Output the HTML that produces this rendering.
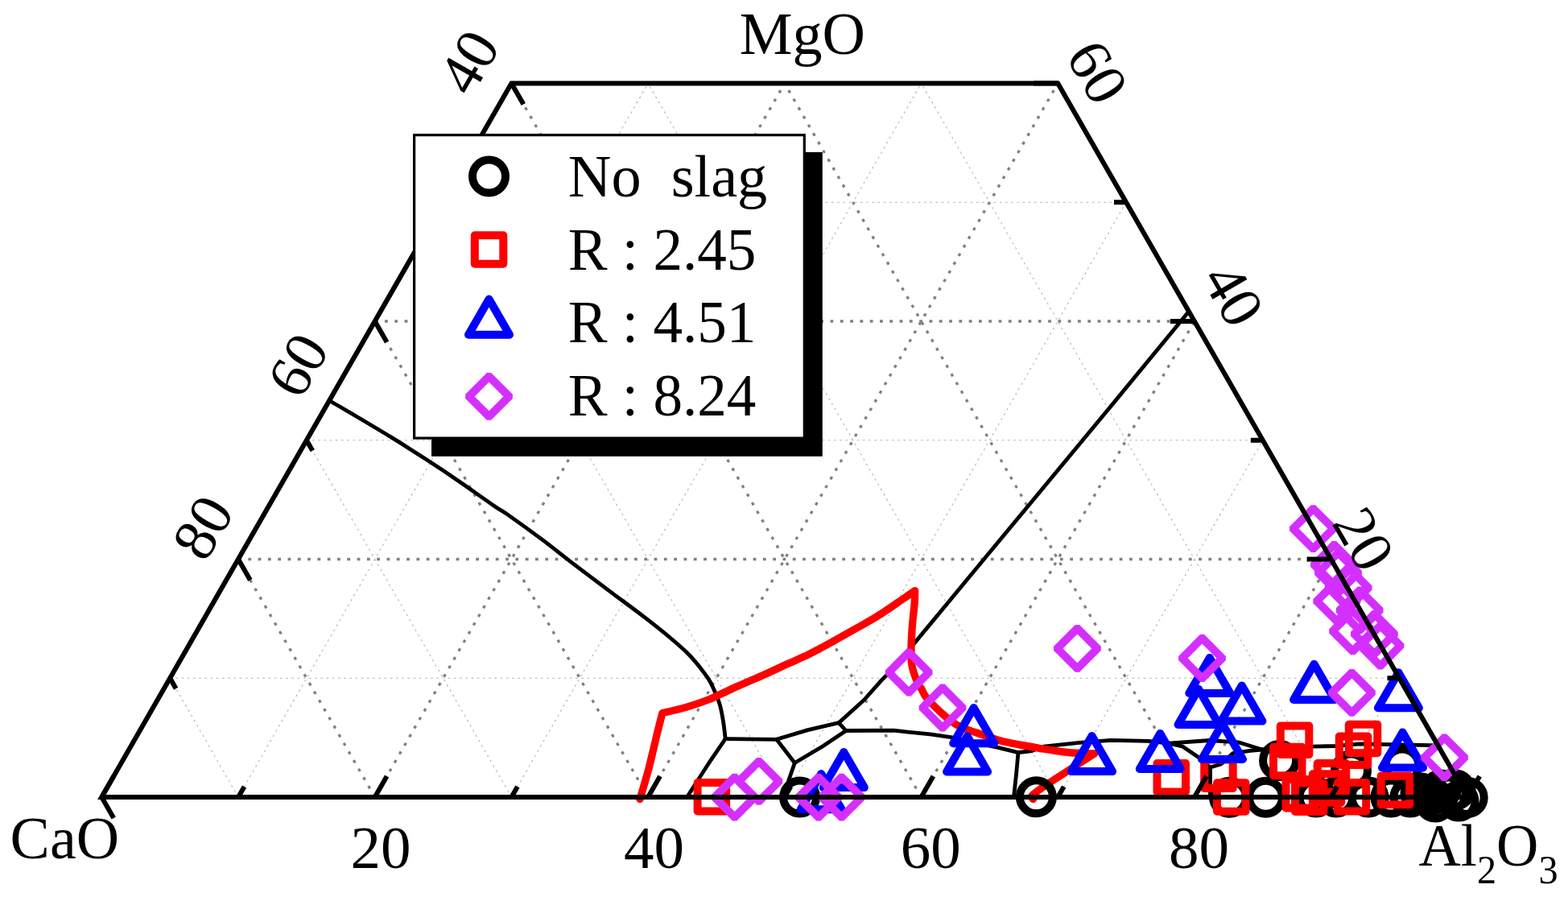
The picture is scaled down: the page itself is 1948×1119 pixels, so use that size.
<!DOCTYPE html>
<html><head><meta charset="utf-8"><title>Ternary diagram</title>
<style>html,body{margin:0;padding:0;background:#fff;overflow:hidden}svg{display:block}</style>
</head><body>
<svg width="1948" height="1119" viewBox="0 0 1948 1119"><rect width="100%" height="100%" fill="#fff"/><g id="grid"><line x1="211.2" y1="842.2" x2="1738.5" y2="842.2" stroke="#b0b0b0" stroke-width="1.05" stroke-dasharray="2.6 4.6" fill="none"/><line x1="296" y1="990" x2="805.1" y2="103.5" stroke="#b0b0b0" stroke-width="1.05" stroke-dasharray="2.6 4.6" fill="none"/><line x1="1653.6" y1="990" x2="1144.5" y2="103.5" stroke="#b0b0b0" stroke-width="1.05" stroke-dasharray="2.6 4.6" fill="none"/><line x1="296" y1="694.5" x2="1653.6" y2="694.5" stroke="#808080" stroke-width="3.3" stroke-dasharray="3.8 8.5" fill="none"/><line x1="465.7" y1="990" x2="974.8" y2="103.5" stroke="#808080" stroke-width="3.3" stroke-dasharray="3.8 8.5" fill="none"/><line x1="1483.9" y1="990" x2="974.8" y2="103.5" stroke="#808080" stroke-width="3.3" stroke-dasharray="3.8 8.5" fill="none"/><line x1="380.8" y1="546.8" x2="1568.8" y2="546.8" stroke="#b0b0b0" stroke-width="1.05" stroke-dasharray="2.6 4.6" fill="none"/><line x1="635.4" y1="990" x2="1144.5" y2="103.5" stroke="#b0b0b0" stroke-width="1.05" stroke-dasharray="2.6 4.6" fill="none"/><line x1="1314.2" y1="990" x2="805.1" y2="103.5" stroke="#b0b0b0" stroke-width="1.05" stroke-dasharray="2.6 4.6" fill="none"/><line x1="465.7" y1="399" x2="1483.9" y2="399" stroke="#808080" stroke-width="3.3" stroke-dasharray="3.8 8.5" fill="none"/><line x1="805.1" y1="990" x2="1314.2" y2="103.5" stroke="#808080" stroke-width="3.3" stroke-dasharray="3.8 8.5" fill="none"/><line x1="1144.5" y1="990" x2="635.4" y2="103.5" stroke="#808080" stroke-width="3.3" stroke-dasharray="3.8 8.5" fill="none"/><line x1="550.5" y1="251.2" x2="1399" y2="251.2" stroke="#b0b0b0" stroke-width="1.05" stroke-dasharray="2.6 4.6" fill="none"/><line x1="974.8" y1="990" x2="1399" y2="251.2" stroke="#b0b0b0" stroke-width="1.05" stroke-dasharray="2.6 4.6" fill="none"/><line x1="974.8" y1="990" x2="550.5" y2="251.2" stroke="#b0b0b0" stroke-width="1.05" stroke-dasharray="2.6 4.6" fill="none"/><line x1="1144.5" y1="990" x2="1483.9" y2="399" stroke="#808080" stroke-width="3.3" stroke-dasharray="3.8 8.5" fill="none"/><line x1="805.1" y1="990" x2="465.7" y2="399" stroke="#808080" stroke-width="3.3" stroke-dasharray="3.8 8.5" fill="none"/><line x1="1314.2" y1="990" x2="1568.8" y2="546.8" stroke="#b0b0b0" stroke-width="1.05" stroke-dasharray="2.6 4.6" fill="none"/><line x1="635.4" y1="990" x2="380.9" y2="546.8" stroke="#b0b0b0" stroke-width="1.05" stroke-dasharray="2.6 4.6" fill="none"/><line x1="1483.9" y1="990" x2="1653.6" y2="694.5" stroke="#808080" stroke-width="3.3" stroke-dasharray="3.8 8.5" fill="none"/><line x1="465.7" y1="990" x2="296" y2="694.5" stroke="#808080" stroke-width="3.3" stroke-dasharray="3.8 8.5" fill="none"/><line x1="1653.6" y1="990" x2="1738.4" y2="842.2" stroke="#b0b0b0" stroke-width="1.05" stroke-dasharray="2.6 4.6" fill="none"/><line x1="296" y1="990" x2="211.1" y2="842.2" stroke="#b0b0b0" stroke-width="1.05" stroke-dasharray="2.6 4.6" fill="none"/></g><g id="phase"><path d="M412.2 499.3 C417.3 502.3 430.6 509.9 442.9 517.2 C455.2 524.5 471.5 534.1 485.8 542.9 C500.1 551.7 514.4 560.8 528.7 570.1 C543 579.4 557.3 588.9 571.6 598.7 C585.9 608.5 604.8 622.1 614.5 628.7 C624.2 635.4 620.3 631.8 630 638.6 C639.7 645.4 658.6 659 672.9 669.7 C687.2 680.4 701.5 692 715.8 702.9 C730.1 713.8 744.3 724.4 758.6 735.1 C772.9 745.8 789 757.6 801.5 767.2 C814 776.9 824.8 785.5 833.7 793 C842.6 800.5 849 806.1 855.1 812.2 C861.2 818.3 865.8 824 870.1 829.4 C874.4 834.8 878 839.8 880.9 844.4 C883.8 849 885 852.1 887.3 857.3 C889.5 862.5 892.5 869.1 894.4 875.7 C896.3 882.4 897.6 890.2 898.7 897.2 C899.8 904.2 900.8 914.2 901.2 917.6" fill="none" stroke="#000" stroke-width="4.8" stroke-linejoin="round" stroke-linecap="round"/><path d="M901.2 917.6 L880 948.7 L853.5 990" fill="none" stroke="#000" stroke-width="4.8" stroke-linejoin="round" stroke-linecap="round" /><path d="M901.2 917.6 L964.7 918.3" fill="none" stroke="#000" stroke-width="4.8" stroke-linejoin="round" stroke-linecap="round" /><path d="M964.7 918.3 L987.3 947.5" fill="none" stroke="#000" stroke-width="4.8" stroke-linejoin="round" stroke-linecap="round" /><path d="M987.3 947.5 L979.5 970 L975.5 990" fill="none" stroke="#000" stroke-width="4.8" stroke-linejoin="round" stroke-linecap="round" /><path d="M964.7 918.3 L1003.6 906.6 L1042 897.7" fill="none" stroke="#000" stroke-width="4.8" stroke-linejoin="round" stroke-linecap="round" /><path d="M987.3 947.5 L1021.5 927.2 L1051 907.5" fill="none" stroke="#000" stroke-width="4.8" stroke-linejoin="round" stroke-linecap="round" /><path d="M1042 897.7 L1051 907.5" fill="none" stroke="#000" stroke-width="4.8" stroke-linejoin="round" stroke-linecap="round" /><path d="M1042 897.7 L1073.3 869.5 L1094.7 845.4 L1111.6 828.3 L1160 769.9 L1201.3 720 L1380 504.6 L1476 388" fill="none" stroke="#000" stroke-width="4.8" stroke-linejoin="round" stroke-linecap="round" /><path d="M1051 907.5 L1110 907.1 L1127.7 909.1 L1155.5 911.9 L1181.3 915.6 L1238.6 928.1 L1265 934.6" fill="none" stroke="#000" stroke-width="4.8" stroke-linejoin="round" stroke-linecap="round" /><path d="M1265 934.6 L1262.7 960 L1259.5 990" fill="none" stroke="#000" stroke-width="4.8" stroke-linejoin="round" stroke-linecap="round" /><path d="M1265 934.6 L1282.1 932.5 L1296.9 927.1 L1341.1 922.4 L1380 919.3 L1426.5 920.4 L1452 923.2" fill="none" stroke="#000" stroke-width="4.8" stroke-linejoin="round" stroke-linecap="round" /><path d="M1452 923.2 L1503 919.5 L1539 922 L1568 931" fill="none" stroke="#000" stroke-width="4.8" stroke-linejoin="round" stroke-linecap="round" /><path d="M1452 923.2 L1469.4 927.2 L1488.6 940.2 L1503.5 953 L1517 949 L1531.5 935.7 L1552.9 932.3 L1568 931" fill="none" stroke="#000" stroke-width="4.8" stroke-linejoin="round" stroke-linecap="round" /><path d="M1503.5 953 L1503.5 990" fill="none" stroke="#000" stroke-width="4.8" stroke-linejoin="round" stroke-linecap="round" /><path d="M1568 931 L1630.6 927.1 L1659.6 926.5 L1690 923.8 L1777.6 925.6 L1786 925.6" fill="none" stroke="#000" stroke-width="4.8" stroke-linejoin="round" stroke-linecap="round" /></g><g id="red"><path d="M795 992.5 C796.8 986.1 802.5 967.9 806 954.4 C809.5 940.9 813.5 923 816.3 911.5 C819.1 900 821.8 889.8 822.9 885.5 C827.7 884.4 842 881.4 851.5 878.6 C861 875.9 872.9 871.7 880 869 C887.1 866.3 888.4 865.2 894.4 862.5 C900.4 859.8 906.2 856.9 915.7 852.6 C925.2 848.3 941.2 841.5 951.5 836.9 C961.8 832.3 968.2 829.2 977.2 825.1 C986.2 821 996.3 816.9 1005.8 812.2 C1015.3 807.5 1024.9 802 1034.4 796.8 C1043.9 791.6 1053.5 786.2 1063 780.8 C1072.5 775.4 1082.1 770.3 1091.6 764.3 C1101.1 758.3 1112.7 750.1 1120.2 745 C1127.7 739.9 1134 735.5 1136.7 733.6 C1136.6 736.1 1136.8 741.3 1136.2 748.6 C1135.7 755.9 1134.1 767.7 1133.4 777.2 C1132.7 786.7 1132 797.4 1132 805.8 C1132 814.1 1131.7 820.1 1133.1 827.3 C1134.5 834.4 1138.3 844 1140.2 848.7 C1142.1 853.4 1143 852.5 1144.7 855.4 C1146.5 858.3 1146.8 861.3 1150.7 866.1 C1154.6 870.9 1162.2 878.6 1168 884 C1173.8 889.4 1179.8 894.5 1185.6 898.3 C1191.4 902 1197.2 904.2 1203 906.5 C1208.8 908.8 1213.6 910.1 1220.1 912.3 C1226.6 914.5 1234 917.6 1241.9 919.7 C1249.8 921.8 1258.7 923.4 1267.4 925.1 C1276.1 926.8 1285.3 928.3 1294.2 929.8 C1303.1 931.2 1313.2 932.8 1321 933.8 C1328.8 934.8 1334.6 935.2 1341.1 935.5 C1347.6 935.8 1356.8 935.8 1359.9 935.8 C1356.8 937.8 1348.7 943 1341.1 947.9 C1333.5 952.8 1322.1 960.2 1314.3 965.3 C1306.5 970.4 1299.6 974.9 1294.2 978.7 C1288.8 982.5 1283.9 985.8 1282.1 988.1 C1280.3 990.4 1283.3 991.8 1283.5 992.5" fill="none" stroke="#ff0000" stroke-width="9.3" stroke-linejoin="round" stroke-linecap="round"/></g><g id="markers"><circle cx="993.6" cy="990" r="20.5" fill="none" stroke="#000" stroke-width="10"/><circle cx="1287.4" cy="989.8" r="20.5" fill="none" stroke="#000" stroke-width="10"/><circle cx="1527.5" cy="990.2" r="20.5" fill="none" stroke="#000" stroke-width="10"/><circle cx="1572.5" cy="990.2" r="20.5" fill="none" stroke="#000" stroke-width="10"/><circle cx="1589.6" cy="944.5" r="20.5" fill="none" stroke="#000" stroke-width="10"/><circle cx="1635" cy="990" r="20.5" fill="none" stroke="#000" stroke-width="10"/><circle cx="1678.5" cy="957" r="20.5" fill="none" stroke="#000" stroke-width="10"/><circle cx="1742" cy="951" r="20.5" fill="none" stroke="#000" stroke-width="10"/><circle cx="1660" cy="990" r="20.5" fill="none" stroke="#000" stroke-width="10"/><circle cx="1700" cy="990" r="20.5" fill="none" stroke="#000" stroke-width="10"/><circle cx="1728" cy="990" r="20.5" fill="none" stroke="#000" stroke-width="10"/><circle cx="1752" cy="990" r="20.5" fill="none" stroke="#000" stroke-width="10"/><circle cx="1765" cy="985" r="20.5" fill="none" stroke="#000" stroke-width="10"/><circle cx="1777" cy="988" r="20.5" fill="none" stroke="#000" stroke-width="10"/><circle cx="1790" cy="981" r="20.5" fill="none" stroke="#000" stroke-width="10"/><circle cx="1783" cy="996" r="20.5" fill="none" stroke="#000" stroke-width="10"/><circle cx="1800" cy="986" r="20.5" fill="none" stroke="#000" stroke-width="10"/><circle cx="1808" cy="981" r="20.5" fill="none" stroke="#000" stroke-width="10"/><circle cx="1812" cy="995" r="20.5" fill="none" stroke="#000" stroke-width="10"/><circle cx="1823.2" cy="990.5" r="20.5" fill="none" stroke="#000" stroke-width="10"/><rect x="866.6" y="972" width="35.5" height="35.5" fill="none" stroke="#ff0000" stroke-width="10" stroke-linejoin="round"/><rect x="1437.5" y="948" width="35.5" height="35.5" fill="none" stroke="#ff0000" stroke-width="10" stroke-linejoin="round"/><rect x="1496.2" y="943.6" width="35.5" height="35.5" fill="none" stroke="#ff0000" stroke-width="10" stroke-linejoin="round"/><rect x="1512" y="972.2" width="35.5" height="35.5" fill="none" stroke="#ff0000" stroke-width="10" stroke-linejoin="round"/><rect x="1590.8" y="901.6" width="35.5" height="35.5" fill="none" stroke="#ff0000" stroke-width="10" stroke-linejoin="round"/><rect x="1582" y="927.8" width="35.5" height="35.5" fill="none" stroke="#ff0000" stroke-width="10" stroke-linejoin="round"/><rect x="1597.5" y="968" width="35.5" height="35.5" fill="none" stroke="#ff0000" stroke-width="10" stroke-linejoin="round"/><rect x="1609" y="972.5" width="35.5" height="35.5" fill="none" stroke="#ff0000" stroke-width="10" stroke-linejoin="round"/><rect x="1630.8" y="961.2" width="35.5" height="35.5" fill="none" stroke="#ff0000" stroke-width="10" stroke-linejoin="round"/><rect x="1636.8" y="948" width="35.5" height="35.5" fill="none" stroke="#ff0000" stroke-width="10" stroke-linejoin="round"/><rect x="1663.8" y="914.6" width="35.5" height="35.5" fill="none" stroke="#ff0000" stroke-width="10" stroke-linejoin="round"/><rect x="1675.8" y="899.8" width="35.5" height="35.5" fill="none" stroke="#ff0000" stroke-width="10" stroke-linejoin="round"/><rect x="1661.7" y="972" width="35.5" height="35.5" fill="none" stroke="#ff0000" stroke-width="10" stroke-linejoin="round"/><rect x="1715.7" y="963.8" width="35.5" height="35.5" fill="none" stroke="#ff0000" stroke-width="10" stroke-linejoin="round"/><polygon points="1020.2,961.1 1045.7,1005.2 994.7,1005.2" fill="none" stroke="#0000ff" stroke-width="10" stroke-linejoin="round"/><polygon points="1048.3,934 1073.8,978.1 1022.8,978.1" fill="none" stroke="#0000ff" stroke-width="10" stroke-linejoin="round"/><polygon points="1209.7,879.1 1235.2,923.2 1184.2,923.2" fill="none" stroke="#0000ff" stroke-width="10" stroke-linejoin="round"/><polygon points="1201.6,914.3 1227.1,958.4 1176.1,958.4" fill="none" stroke="#0000ff" stroke-width="10" stroke-linejoin="round"/><polygon points="1356.5,914 1382,958.1 1331,958.1" fill="none" stroke="#0000ff" stroke-width="10" stroke-linejoin="round"/><polygon points="1441.3,910.9 1466.8,955 1415.8,955" fill="none" stroke="#0000ff" stroke-width="10" stroke-linejoin="round"/><polygon points="1502.8,816.9 1528.3,861 1477.3,861" fill="none" stroke="#0000ff" stroke-width="10" stroke-linejoin="round"/><polygon points="1489,855.8 1514.5,899.9 1463.5,899.9" fill="none" stroke="#0000ff" stroke-width="10" stroke-linejoin="round"/><polygon points="1542.8,851.5 1568.3,895.6 1517.3,895.6" fill="none" stroke="#0000ff" stroke-width="10" stroke-linejoin="round"/><polygon points="1518.5,898.9 1544,943 1493,943" fill="none" stroke="#0000ff" stroke-width="10" stroke-linejoin="round"/><polygon points="1632.6,824.8 1658.1,868.9 1607.1,868.9" fill="none" stroke="#0000ff" stroke-width="10" stroke-linejoin="round"/><polygon points="1737.4,835.2 1762.9,879.3 1711.9,879.3" fill="none" stroke="#0000ff" stroke-width="10" stroke-linejoin="round"/><polygon points="1742.5,909.4 1768,953.5 1717,953.5" fill="none" stroke="#0000ff" stroke-width="10" stroke-linejoin="round"/><path d="M910.1 960.7 L915.3 960.7 L942.1 987.5 L942.1 992.7 L915.3 1019.5 L910.1 1019.5 L883.3 992.7 L883.3 987.5Z M912.7 972.2 L894.8 990.1 L912.7 1008 L930.6 990.1Z" fill="#d42fff" fill-rule="evenodd"/><path d="M940.2 941 L945.4 941 L972.2 967.8 L972.2 973 L945.4 999.8 L940.2 999.8 L913.4 973 L913.4 967.8Z M942.8 952.5 L924.9 970.4 L942.8 988.3 L960.7 970.4Z" fill="#d42fff" fill-rule="evenodd"/><path d="M1014.3 960.7 L1019.5 960.7 L1046.3 987.5 L1046.3 992.7 L1019.5 1019.5 L1014.3 1019.5 L987.5 992.7 L987.5 987.5Z M1016.9 972.2 L999 990.1 L1016.9 1008 L1034.8 990.1Z" fill="#d42fff" fill-rule="evenodd"/><path d="M1043 960.7 L1048.2 960.7 L1075 987.5 L1075 992.7 L1048.2 1019.5 L1043 1019.5 L1016.2 992.7 L1016.2 987.5Z M1045.6 972.2 L1027.7 990.1 L1045.6 1008 L1063.5 990.1Z" fill="#d42fff" fill-rule="evenodd"/><path d="M1126.5 805.6 L1131.7 805.6 L1158.5 832.4 L1158.5 837.6 L1131.7 864.4 L1126.5 864.4 L1099.7 837.6 L1099.7 832.4Z M1129.1 817.1 L1111.2 835 L1129.1 852.9 L1147 835Z" fill="#d42fff" fill-rule="evenodd"/><path d="M1168.4 849.6 L1173.6 849.6 L1200.4 876.4 L1200.4 881.6 L1173.6 908.4 L1168.4 908.4 L1141.6 881.6 L1141.6 876.4Z M1171 861.1 L1153.1 879 L1171 896.9 L1188.9 879Z" fill="#d42fff" fill-rule="evenodd"/><path d="M1335.8 776 L1341 776 L1367.8 802.8 L1367.8 808 L1341 834.8 L1335.8 834.8 L1309 808 L1309 802.8Z M1338.4 787.5 L1320.5 805.4 L1338.4 823.3 L1356.3 805.4Z" fill="#d42fff" fill-rule="evenodd"/><path d="M1490.9 788.1 L1496.1 788.1 L1522.9 814.9 L1522.9 820.1 L1496.1 846.9 L1490.9 846.9 L1464.1 820.1 L1464.1 814.9Z M1493.5 799.6 L1475.6 817.5 L1493.5 835.4 L1511.4 817.5Z" fill="#d42fff" fill-rule="evenodd"/><path d="M1628.9 627.2 L1634.1 627.2 L1660.9 654 L1660.9 659.2 L1634.1 686 L1628.9 686 L1602.1 659.2 L1602.1 654Z M1631.5 638.7 L1613.6 656.6 L1631.5 674.5 L1649.4 656.6Z" fill="#d42fff" fill-rule="evenodd"/><path d="M1654.9 672.1 L1660.1 672.1 L1686.9 698.9 L1686.9 704.1 L1660.1 730.9 L1654.9 730.9 L1628.1 704.1 L1628.1 698.9Z M1657.5 683.6 L1639.6 701.5 L1657.5 719.4 L1675.4 701.5Z" fill="#d42fff" fill-rule="evenodd"/><path d="M1659.9 681.9 L1665.1 681.9 L1691.9 708.7 L1691.9 713.9 L1665.1 740.7 L1659.9 740.7 L1633.1 713.9 L1633.1 708.7Z M1662.5 693.4 L1644.6 711.3 L1662.5 729.2 L1680.4 711.3Z" fill="#d42fff" fill-rule="evenodd"/><path d="M1672.6 700.6 L1677.8 700.6 L1704.6 727.4 L1704.6 732.6 L1677.8 759.4 L1672.6 759.4 L1645.8 732.6 L1645.8 727.4Z M1675.2 712.1 L1657.3 730 L1675.2 747.9 L1693.1 730Z" fill="#d42fff" fill-rule="evenodd"/><path d="M1658.2 717.2 L1663.4 717.2 L1690.2 744 L1690.2 749.2 L1663.4 776 L1658.2 776 L1631.4 749.2 L1631.4 744Z M1660.8 728.7 L1642.9 746.6 L1660.8 764.5 L1678.7 746.6Z" fill="#d42fff" fill-rule="evenodd"/><path d="M1686.6 728.5 L1691.8 728.5 L1718.6 755.3 L1718.6 760.5 L1691.8 787.3 L1686.6 787.3 L1659.8 760.5 L1659.8 755.3Z M1689.2 740 L1671.3 757.9 L1689.2 775.8 L1707.1 757.9Z" fill="#d42fff" fill-rule="evenodd"/><path d="M1678 754.4 L1683.2 754.4 L1710 781.2 L1710 786.4 L1683.2 813.2 L1678 813.2 L1651.2 786.4 L1651.2 781.2Z M1680.6 765.9 L1662.7 783.8 L1680.6 801.7 L1698.5 783.8Z" fill="#d42fff" fill-rule="evenodd"/><path d="M1704.8 758 L1710 758 L1736.8 784.8 L1736.8 790 L1710 816.8 L1704.8 816.8 L1678 790 L1678 784.8Z M1707.4 769.5 L1689.5 787.4 L1707.4 805.3 L1725.3 787.4Z" fill="#d42fff" fill-rule="evenodd"/><path d="M1712.3 772.6 L1717.5 772.6 L1744.3 799.4 L1744.3 804.6 L1717.5 831.4 L1712.3 831.4 L1685.5 804.6 L1685.5 799.4Z M1714.9 784.1 L1697 802 L1714.9 819.9 L1732.8 802Z" fill="#d42fff" fill-rule="evenodd"/><path d="M1676.8 831 L1682 831 L1708.8 857.8 L1708.8 863 L1682 889.8 L1676.8 889.8 L1650 863 L1650 857.8Z M1679.4 842.5 L1661.5 860.4 L1679.4 878.3 L1697.3 860.4Z" fill="#d42fff" fill-rule="evenodd"/><path d="M1791.9 911.4 L1797.1 911.4 L1823.9 938.2 L1823.9 943.4 L1797.1 970.2 L1791.9 970.2 L1765.1 943.4 L1765.1 938.2Z M1794.5 922.9 L1776.6 940.8 L1794.5 958.7 L1812.4 940.8Z" fill="#d42fff" fill-rule="evenodd"/></g><g id="axes"><line x1="126.3" y1="990" x2="141.2" y2="964" stroke="#000" stroke-width="6" stroke-linecap="butt"/><line x1="126.3" y1="990" x2="141.2" y2="1016" stroke="#000" stroke-width="6" stroke-linecap="butt"/><line x1="1823.3" y1="990" x2="1793.3" y2="990" stroke="#000" stroke-width="6" stroke-linecap="butt"/><line x1="296" y1="990" x2="303.5" y2="977" stroke="#000" stroke-width="6" stroke-linecap="butt"/><line x1="211.2" y1="842.2" x2="218.6" y2="855.3" stroke="#000" stroke-width="6" stroke-linecap="butt"/><line x1="1738.5" y1="842.2" x2="1723.5" y2="842.2" stroke="#000" stroke-width="6" stroke-linecap="butt"/><line x1="465.7" y1="990" x2="480.6" y2="964" stroke="#000" stroke-width="6" stroke-linecap="butt"/><line x1="296" y1="694.5" x2="310.9" y2="720.5" stroke="#000" stroke-width="6" stroke-linecap="butt"/><line x1="1653.6" y1="694.5" x2="1623.6" y2="694.5" stroke="#000" stroke-width="6" stroke-linecap="butt"/><line x1="635.4" y1="990" x2="642.9" y2="977" stroke="#000" stroke-width="6" stroke-linecap="butt"/><line x1="380.8" y1="546.8" x2="388.3" y2="559.8" stroke="#000" stroke-width="6" stroke-linecap="butt"/><line x1="1568.8" y1="546.8" x2="1553.8" y2="546.8" stroke="#000" stroke-width="6" stroke-linecap="butt"/><line x1="805.1" y1="990" x2="820" y2="964" stroke="#000" stroke-width="6" stroke-linecap="butt"/><line x1="465.7" y1="399" x2="480.6" y2="425" stroke="#000" stroke-width="6" stroke-linecap="butt"/><line x1="1483.9" y1="399" x2="1453.9" y2="399" stroke="#000" stroke-width="6" stroke-linecap="butt"/><line x1="974.8" y1="990" x2="982.3" y2="977" stroke="#000" stroke-width="6" stroke-linecap="butt"/><line x1="550.5" y1="251.2" x2="558" y2="264.3" stroke="#000" stroke-width="6" stroke-linecap="butt"/><line x1="1399" y1="251.2" x2="1384" y2="251.2" stroke="#000" stroke-width="6" stroke-linecap="butt"/><line x1="1144.5" y1="990" x2="1159.4" y2="964" stroke="#000" stroke-width="6" stroke-linecap="butt"/><line x1="635.4" y1="103.5" x2="650.3" y2="129.5" stroke="#000" stroke-width="6" stroke-linecap="butt"/><line x1="1314.2" y1="103.5" x2="1284.2" y2="103.5" stroke="#000" stroke-width="6" stroke-linecap="butt"/><line x1="1314.2" y1="990" x2="1321.7" y2="977" stroke="#000" stroke-width="6" stroke-linecap="butt"/><line x1="1483.9" y1="990" x2="1498.8" y2="964" stroke="#000" stroke-width="6" stroke-linecap="butt"/><line x1="1653.6" y1="990" x2="1661.1" y2="977" stroke="#000" stroke-width="6" stroke-linecap="butt"/><line x1="1823.3" y1="990" x2="1838.2" y2="964" stroke="#000" stroke-width="6" stroke-linecap="butt"/><path d="M126.3 990 L1823.3 990 L1314.2 103.5 L635.4 103.5 Z" fill="none" stroke="#000" stroke-width="6" stroke-linejoin="miter"/></g><g id="labels"><text x="0" y="0" font-size="75" text-anchor="middle" font-family="&quot;Liberation Serif&quot;, &quot;Times New Roman&quot;, serif" transform="translate(996.8 66.7) scale(0.987 1)">MgO</text><text x="0" y="0" font-size="75" text-anchor="middle" font-family="&quot;Liberation Serif&quot;, &quot;Times New Roman&quot;, serif" transform="translate(80.3 1065.7) scale(0.985 1)">CaO</text><text x="0" y="0" font-size="75" font-family="&quot;Liberation Serif&quot;, &quot;Times New Roman&quot;, serif" transform="translate(1762.5 1074.7) scale(0.966 1)">Al<tspan font-size="50" dy="22">2</tspan><tspan dy="-22">O</tspan><tspan font-size="50" dy="22">3</tspan></text><text x="472.9" y="1078" font-size="75" text-anchor="middle" font-family="&quot;Liberation Serif&quot;, &quot;Times New Roman&quot;, serif" >20</text><text x="812.5" y="1078" font-size="75" text-anchor="middle" font-family="&quot;Liberation Serif&quot;, &quot;Times New Roman&quot;, serif" >40</text><text x="1156.3" y="1078" font-size="75" text-anchor="middle" font-family="&quot;Liberation Serif&quot;, &quot;Times New Roman&quot;, serif" >60</text><text x="1489.6" y="1078" font-size="75" text-anchor="middle" font-family="&quot;Liberation Serif&quot;, &quot;Times New Roman&quot;, serif" >80</text><text x="0" y="0" font-size="75" text-anchor="middle" font-family="&quot;Liberation Serif&quot;, &quot;Times New Roman&quot;, serif" transform="translate(582.3 77.1) rotate(-60) translate(0 25)">40</text><text x="0" y="0" font-size="75" text-anchor="middle" font-family="&quot;Liberation Serif&quot;, &quot;Times New Roman&quot;, serif" transform="translate(370 453.6) rotate(-60) translate(0 25)">60</text><text x="0" y="0" font-size="75" text-anchor="middle" font-family="&quot;Liberation Serif&quot;, &quot;Times New Roman&quot;, serif" transform="translate(252 655.1) rotate(-60) translate(0 25)">80</text><text x="0" y="0" font-size="75" text-anchor="middle" font-family="&quot;Liberation Serif&quot;, &quot;Times New Roman&quot;, serif" transform="translate(1363.5 89.6) rotate(60) translate(0 25)">60</text><text x="0" y="0" font-size="75" text-anchor="middle" font-family="&quot;Liberation Serif&quot;, &quot;Times New Roman&quot;, serif" transform="translate(1532.2 366.1) rotate(60) translate(0 25)">40</text><text x="0" y="0" font-size="75" text-anchor="middle" font-family="&quot;Liberation Serif&quot;, &quot;Times New Roman&quot;, serif" transform="translate(1694.2 669.5) rotate(60) translate(0 25)">20</text></g><g id="legend"><rect x="536" y="189" width="485.8" height="377.8" fill="#000"/><rect x="514.6" y="167.7" width="484.7" height="376.4" fill="#fff" stroke="#000" stroke-width="3.2"/><circle cx="607.5" cy="219" r="20.5" fill="none" stroke="#000" stroke-width="10"/><rect x="589.8" y="292.2" width="35.5" height="35.5" fill="none" stroke="#ff0000" stroke-width="10" stroke-linejoin="round"/><polygon points="607.5,371.6 633,415.7 582,415.7" fill="none" stroke="#0000ff" stroke-width="10" stroke-linejoin="round"/><path d="M604.9 463 L610.1 463 L636.9 489.8 L636.9 495 L610.1 521.8 L604.9 521.8 L578.1 495 L578.1 489.8Z M607.5 474.5 L589.6 492.4 L607.5 510.3 L625.4 492.4Z" fill="#d42fff" fill-rule="evenodd"/><text x="0" y="0" font-size="75" font-family="&quot;Liberation Serif&quot;, &quot;Times New Roman&quot;, serif" transform="translate(705.8 244.4) scale(0.99 1)">No&#160; slag</text><text x="0" y="0" font-size="75" font-family="&quot;Liberation Serif&quot;, &quot;Times New Roman&quot;, serif" transform="translate(705.8 334.8) scale(0.975 1)">R : 2.45</text><text x="0" y="0" font-size="75" font-family="&quot;Liberation Serif&quot;, &quot;Times New Roman&quot;, serif" transform="translate(705.8 425.2) scale(0.975 1)">R : 4.51</text><text x="0" y="0" font-size="75" font-family="&quot;Liberation Serif&quot;, &quot;Times New Roman&quot;, serif" transform="translate(705.8 515.6) scale(0.975 1)">R : 8.24</text></g></svg>
</body></html>
